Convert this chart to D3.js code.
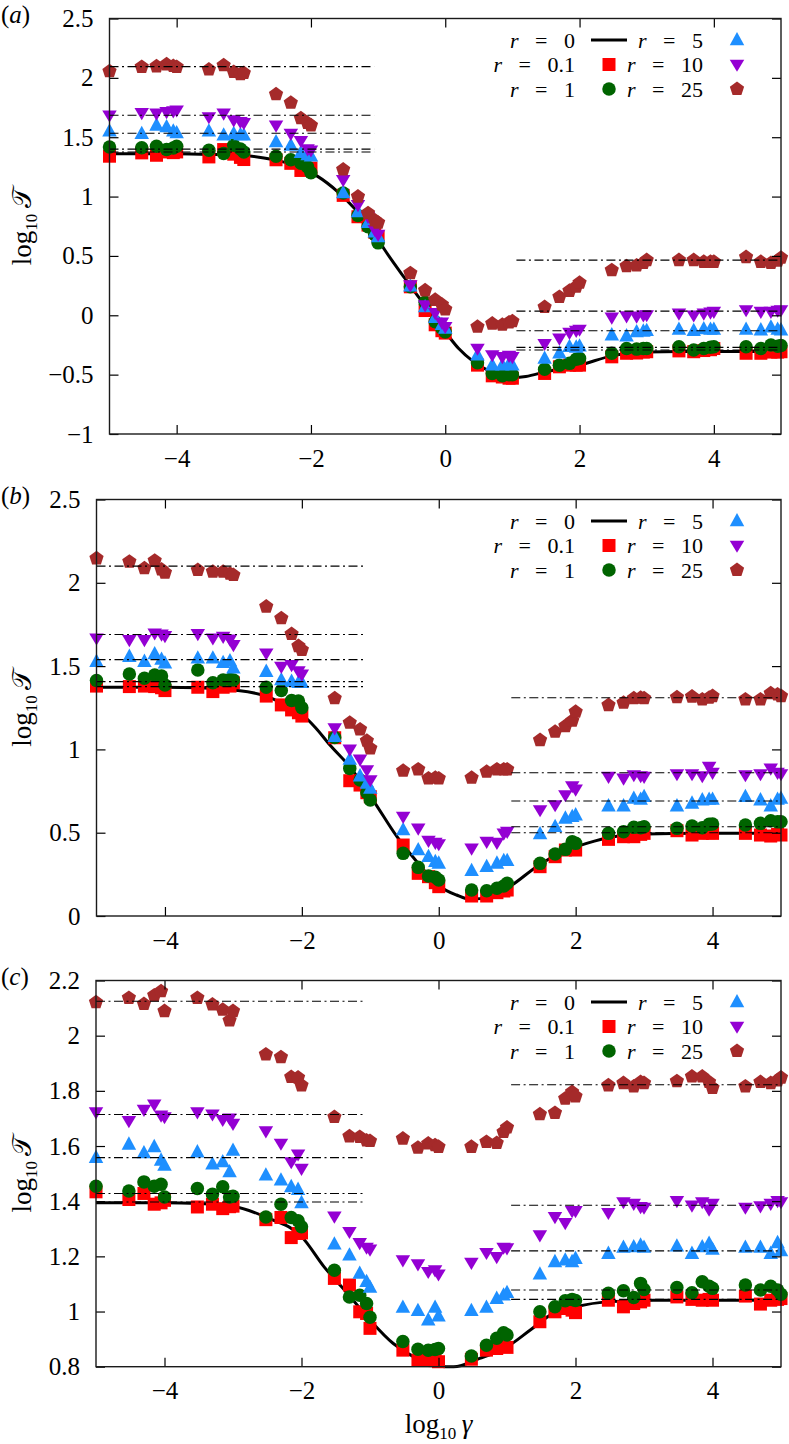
<!DOCTYPE html>
<html>
<head>
<meta charset="utf-8">
<script src="https://cdn.jsdelivr.net/npm/d3@7"></script>
<style>
  body { margin: 0; background: #fff; }
  svg text { font-family: "Liberation Serif", "Times New Roman", Times, "DejaVu Serif", serif; fill: #000; }
</style>
</head>
<body>
<div id="chart"></div>
<script>
// log10(gamma) of every run (1,3,5,7,9 x 10^k)
var logGamma = [
  -5, -4.52, -4.3, -4.15, -4.05,
  -4, -3.52, -3.3, -3.15, -3.05,
  -3, -2.52, -2.3, -2.15, -2.05,
  -2, -1.52, -1.3, -1.15, -1.05,
  -1, -0.52, -0.3, -0.15, -0.05,
   0,  0.48,  0.7,  0.85,  0.95,
   1,  1.48,  1.7,  1.85,  1.95,
   2,  2.48,  2.7,  2.85,  2.95,
   3,  3.48,  3.7,  3.85,  3.95,
   4,  4.48,  4.7,  4.85,  4.95,
   5];

var legendNames = ["0.1", "1", "5", "10", "25"];

// panel (a)
var aR01 = [1.34,1.368,1.348,1.376,1.37, 1.376,1.334,1.396,1.357,1.33, 1.312,1.31,1.28,1.22,1.23,
  1.24,1.01,0.83,0.76,0.70, 0.66,0.24,0.04,-0.08,-0.13, -0.15,-0.42,-0.51,-0.52,-0.53,
  -0.53,-0.49,-0.434,-0.42,-0.42, -0.42,-0.35,-0.32,-0.318,-0.31, -0.307,-0.30,-0.307,-0.297,-0.29,
  -0.28,-0.32,-0.32,-0.31,-0.31, -0.307];
var aR1 = [1.418,1.412,1.424,1.396,1.41, 1.424,1.39,1.363,1.433,1.40, 1.376,1.34,1.31,1.28,1.25,
  1.20,1.03,0.84,0.745,0.68, 0.61,0.24,0.11,-0.055,-0.11, -0.14,-0.40,-0.49,-0.51,-0.50,
  -0.50,-0.455,-0.42,-0.405,-0.37, -0.363,-0.32,-0.28,-0.285,-0.28, -0.28,-0.265,-0.293,-0.28,-0.27,
  -0.265,-0.265,-0.28,-0.25,-0.26, -0.255];
var aR5 = [1.55,1.53,1.60,1.587,1.55, 1.536,1.55,1.517,1.53,1.52, 1.517,1.46,1.43,1.37,1.35,
  1.34,1.03,0.87,0.78,0.70, 0.66,0.245,0.07,-0.02,-0.08, -0.11,-0.335,-0.42,-0.42,-0.41,
  -0.42,-0.363,-0.32,-0.265,-0.27, -0.26,-0.167,-0.175,-0.14,-0.135, -0.13,-0.12,-0.13,-0.115,-0.12,
  -0.12,-0.12,-0.125,-0.10,-0.12, -0.125];
var aR10 = [1.685,1.705,1.70,1.713,1.72, 1.727,1.67,1.70,1.643,1.63, 1.62,1.60,1.53,1.47,1.40,
  1.39,1.14,0.93,0.83,0.72, 0.68,0.254,0.085,0.02,-0.06, -0.097,-0.28,-0.335,-0.35,-0.34,
  -0.35,-0.24,-0.195,-0.147,-0.13, -0.12,-0.018,-0.007,-0.01,0.0, 0.002,0.016,0.0,0.016,0.025,
  0.03,0.044,0.03,0.03,0.04, 0.044];
var aR25 = [2.056,2.092,2.097,2.114,2.10, 2.092,2.07,2.106,2.05,2.03, 2.041,1.862,1.79,1.66,1.62,
  1.60,1.228,1.0,0.86,0.80, 0.78,0.355,0.21,0.13,0.09, 0.05,-0.097,-0.07,-0.08,-0.06,
  -0.05,0.07,0.155,0.206,0.24, 0.274,0.38,0.414,0.42,0.44, 0.465,0.465,0.465,0.45,0.45,
  0.45,0.49,0.45,0.44,0.46, 0.485];
var aCurve = [[-5,1.36],[-4,1.36],[-3.5,1.355],[-3,1.345],[-2.7,1.325],[-2.4,1.29],[-2.1,1.23],
  [-1.9,1.17],[-1.6,1.04],[-1.35,0.90],[-1.1,0.73],[-0.9,0.55],[-0.6,0.31],[-0.3,0.08],[0,-0.14],
  [0.2,-0.28],[0.42,-0.39],[0.7,-0.48],[0.95,-0.525],[1.2,-0.515],[1.5,-0.475],[2,-0.42],
  [2.5,-0.34],[3,-0.31],[3.5,-0.305],[5,-0.305]];
var aPlateauLow = [1.376, 1.40, 1.534, 1.685, 2.095];
var aPlateauHigh = [-0.293, -0.27, -0.13, 0.035, 0.465];
var aTicks = [-1, -0.5, 0, 0.5, 1, 1.5, 2, 2.5];

// panel (b)
var bR01 = [1.38,1.377,1.38,1.377,1.37, 1.353,1.373,1.347,1.373,1.38, 1.40,1.32,1.267,1.237,1.22,
  1.20,1.07,0.812,0.786,0.74, 0.716,0.426,0.256,0.236,0.20, 0.176,0.12,0.12,0.14,0.15,
  0.156,0.296,0.356,0.396,0.40, 0.396,0.46,0.476,0.476,0.49, 0.496,0.512,0.486,0.496,0.50,
  0.496,0.496,0.486,0.48,0.49, 0.486];
var bR1 = [1.413,1.453,1.427,1.447,1.44, 1.387,1.477,1.40,1.417,1.42, 1.417,1.373,1.353,1.293,1.29,
  1.25,1.072,0.886,0.816,0.74, 0.696,0.376,0.292,0.24,0.232, 0.216,0.156,0.152,0.166,0.18,
  0.196,0.316,0.372,0.40,0.446, 0.436,0.496,0.506,0.532,0.53, 0.536,0.526,0.54,0.53,0.55,
  0.552,0.546,0.556,0.572,0.565, 0.566];
var bR5 = [1.527,1.557,1.527,1.573,1.54, 1.517,1.547,1.547,1.52,1.53, 1.487,1.467,1.417,1.407,1.40,
  1.40,1.076,0.94,0.84,0.796, 0.766,0.516,0.396,0.356,0.326, 0.316,0.272,0.296,0.316,0.332,
  0.332,0.492,0.536,0.586,0.596, 0.606,0.66,0.66,0.706,0.70, 0.716,0.66,0.676,0.696,0.70,
  0.70,0.716,0.696,0.66,0.70, 0.706];
var bR10 = [1.667,1.657,1.657,1.697,1.69, 1.681,1.693,1.667,1.677,1.66, 1.627,1.577,1.497,1.507,1.47,
  1.45,1.127,1.0,0.94,0.876, 0.816,0.596,0.526,0.452,0.44, 0.432,0.406,0.446,0.44,0.496,
  0.506,0.636,0.666,0.726,0.78, 0.76,0.836,0.826,0.846,0.84, 0.836,0.852,0.852,0.84,0.896,
  0.86,0.846,0.852,0.886,0.86, 0.852];
var bR25 = [2.147,2.127,2.087,2.133,2.08, 2.061,2.077,2.067,2.067,2.055, 2.047,1.857,1.787,1.693,1.62,
  1.597,1.307,1.16,1.12,1.052, 1.006,0.872,0.88,0.826,0.83, 0.826,0.83,0.866,0.88,0.88,
  0.88,1.056,1.106,1.14,1.172, 1.226,1.266,1.28,1.307,1.31, 1.307,1.313,1.317,1.30,1.31,
  1.32,1.30,1.30,1.337,1.33, 1.32];
var bCurve = [[-5,1.373],[-4,1.373],[-3.5,1.37],[-3,1.357],[-2.5,1.317],[-2.2,1.257],[-2,1.21],
  [-1.8,1.13],[-1.59,1.026],[-1.3,0.896],[-0.96,0.696],[-0.61,0.476],[-0.32,0.326],[0.02,0.176],
  [0.26,0.126],[0.46,0.10],[0.75,0.116],[1.07,0.186],[1.43,0.296],[1.82,0.386],[2.16,0.436],
  [2.55,0.476],[3.04,0.492],[3.77,0.496],[5,0.496]];
var bPlateauLow = [1.377, 1.407, 1.539, 1.69, 2.10];
var bPlateauHigh = [0.50, 0.536, 0.69, 0.86, 1.31];
var bTicks = [0, 0.5, 1, 1.5, 2, 2.5];

// panel (c)
var cR01 = [1.434,1.406,1.428,1.389,1.394, 1.403,1.379,1.389,1.373,1.38, 1.382,1.333,1.341,1.268,1.283,
  1.285,1.12,1.096,0.999,0.993, 0.939,0.86,0.824,0.824,0.822, 0.818,0.827,0.86,0.866,0.875,
  0.87,0.963,0.999,1.011,1.005, 0.996,1.041,1.017,1.029,1.035, 1.041,1.053,1.044,1.041,1.044,
  1.041,1.056,1.027,1.041,1.044, 1.047];
var cR1 = [1.454,1.437,1.47,1.454,1.461, 1.415,1.446,1.425,1.452,1.415, 1.418,1.343,1.389,1.341,1.329,
  1.307,1.15,1.053,1.059,1.029, 0.979,0.891,0.863,0.86,0.862, 0.866,0.839,0.878,0.903,0.923,
  0.915,0.999,1.017,1.039,1.044, 1.04,1.066,1.075,1.051,1.102, 1.08,1.087,1.068,1.108,1.092,
  1.084,1.096,1.078,1.092,1.078, 1.063];
var cR5 = [1.558,1.606,1.575,1.597,1.548, 1.53,1.578,1.534,1.542,1.506, 1.584,1.494,1.476,1.452,1.442,
  1.394,1.244,1.204,1.138,1.108, 1.087,1.015,1.003,0.969,1.015, 0.983,1.003,1.015,1.047,1.059,
  1.068,1.135,1.18,1.186,1.18, 1.192,1.21,1.232,1.234,1.24, 1.232,1.237,1.21,1.234,1.247,
  1.225,1.232,1.232,1.21,1.249, 1.22];
var cR10 = [1.723,1.691,1.732,1.751,1.711, 1.705,1.723,1.715,1.695,1.70, 1.681,1.654,1.609,1.542,1.57,
  1.518,1.345,1.289,1.249,1.232, 1.225,1.186,1.172,1.144,1.15, 1.135,1.177,1.213,1.198,1.232,
  1.23,1.277,1.343,1.321,1.365, 1.365,1.358,1.397,1.391,1.379, 1.377,1.401,1.385,1.397,1.37,
  1.391,1.377,1.382,1.391,1.401, 1.397];
var cR25 = [2.121,2.137,2.115,2.146,2.161, 2.089,2.137,2.113,2.094,2.055, 2.089,1.932,1.922,1.85,1.848,
  1.82,1.705,1.635,1.633,1.62, 1.618,1.627,1.594,1.609,1.603, 1.597,1.597,1.615,1.611,1.651,
  1.667,1.715,1.72,1.772,1.796, 1.78,1.82,1.828,1.816,1.832, 1.828,1.835,1.852,1.852,1.832,
  1.811,1.816,1.832,1.828,1.838, 1.848];
var cCurve = [[-5,1.394],[-4,1.394],[-3.5,1.392],[-3,1.382],[-2.5,1.34],[-2,1.272],[-1.67,1.162],
  [-1.33,1.066],[-1,0.969],[-0.66,0.884],[-0.32,0.83],[0,0.802],[0.22,0.80],[0.6,0.83],[1,0.872],
  [1.34,0.933],[1.68,0.994],[2.02,1.018],[2.45,1.035],[3.14,1.041],[5,1.041]];
var cPlateauLow = [1.397, 1.428, 1.558, 1.714, 2.125];
var cPlateauHigh = [1.044, 1.078, 1.22, 1.385, 1.822];
var cTicks = [0.8, 1, 1.2, 1.4, 1.6, 1.8, 2, 2.2];

var xTicks = [-4, -2, 0, 2, 4];

var width = 789, height = 1444, plotRight = 781;
var serif = "'Liberation Serif', 'Times New Roman', Times, 'DejaVu Serif', serif";
var colors = ["#ff0000", "#006400", "#1e8fff", "#9400d3", "#a52a2a"];

// marker shapes (size = rough width in px)
var square = { draw: function (c, s) { var h = s / 2; c.rect(-h, -h, s, s); } };
var circle = { draw: function (c, s) { var r = s / 2; c.moveTo(r, 0); c.arc(0, 0, r, 0, 2 * Math.PI); } };
var triUp = { draw: function (c, s) {
  var h = s * 0.92;
  c.moveTo(0, -h * 0.6); c.lineTo(s / 2, h * 0.4); c.lineTo(-s / 2, h * 0.4); c.closePath();
} };
var triDown = { draw: function (c, s) {
  var h = s * 0.84;
  c.moveTo(0, h * 0.6); c.lineTo(s / 2, -h * 0.4); c.lineTo(-s / 2, -h * 0.4); c.closePath();
} };
var pentagon = { draw: function (c, s) {
  var r = s / 2;
  for (var i = 0; i < 5; i++) {
    var a = -Math.PI / 2 + i * 2 * Math.PI / 5;
    if (i === 0) c.moveTo(r * Math.cos(a), r * Math.sin(a));
    else c.lineTo(r * Math.cos(a), r * Math.sin(a));
  }
  c.closePath();
} };
var shapes = [square, circle, triUp, triDown, pentagon];
var shapeSizes = [13, 13.5, 14.5, 14.5, 15];

var panels = [
  { tag: "a", left: 109.5, top: 18.5, bottom: 434, domain: [-1, 2.5], ticks: aTicks, curve: aCurve,
    series: [aR01, aR1, aR5, aR10, aR25], low: aPlateauLow, high: aPlateauHigh },
  { tag: "b", left: 96.5, top: 499.5, bottom: 916, domain: [0, 2.5], ticks: bTicks, curve: bCurve,
    series: [bR01, bR1, bR5, bR10, bR25], low: bPlateauLow, high: bPlateauHigh },
  { tag: "c", left: 96, top: 980.5, bottom: 1366.7, domain: [0.8, 2.2], ticks: cTicks, curve: cCurve,
    series: [cR01, cR1, cR5, cR10, cR25], low: cPlateauLow, high: cPlateauHigh }
];

var svg = d3.select("#chart").append("svg")
  .attr("width", width)
  .attr("height", height)
  .attr("font-family", serif);

function fmt(d) { return String(d).replace("-", "\u2212"); }

function logLabel(sel, symbol, italicSymbol) {
  sel.append("tspan").text("log");
  sel.append("tspan").attr("dy", 6).style("font-size", "17px").text("10");
  var t = sel.append("tspan").attr("dy", -6).text("\u2009" + symbol);
  if (italicSymbol) t.style("font-style", "italic");
}

panels.forEach(function (p) {
  var x = d3.scaleLinear().domain([-5, 5]).range([p.left, plotRight]);
  var y = d3.scaleLinear().domain(p.domain).range([p.bottom, p.top]);
  var g = svg.append("g");

  // r = 0 curve
  g.append("path")
    .datum(p.curve)
    .attr("fill", "none")
    .attr("stroke", "#000")
    .attr("stroke-width", 3)
    .attr("d", d3.line().x(d => x(d[0])).y(d => y(d[1])).curve(d3.curveMonotoneX));

  // markers, one series after the other
  p.series.forEach(function (vals, k) {
    var pts = logGamma.map((lg, i) => [lg, vals[i]]).filter(d => d[1] != null);
    g.append("g")
      .attr("fill", colors[k])
      .selectAll("path")
      .data(pts)
      .enter()
        .append("path")
        .attr("transform", d => "translate(" + x(d[0]) + "," + y(d[1]) + ")")
        .attr("d", d3.symbol().type(shapes[k]).size(shapeSizes[k]));
  });

  // dash-dot plateau lines
  var dash = g.append("g")
    .attr("stroke", "#000")
    .attr("stroke-width", 1.1)
    .attr("stroke-dasharray", "9,3.5,2,3.5");
  p.low.forEach(function (v) {
    dash.append("line").attr("x1", x(-5)).attr("x2", x(-1.06)).attr("y1", y(v)).attr("y2", y(v));
  });
  p.high.forEach(function (v) {
    dash.append("line").attr("x1", x(1.06)).attr("x2", x(5)).attr("y1", y(v)).attr("y2", y(v));
  });

  // axes with inward ticks on all four sides
  var axL = g.append("g").attr("transform", "translate(" + p.left + ",0)")
    .call(d3.axisLeft(y).tickValues(p.ticks).tickSize(-9).tickPadding(16).tickFormat(fmt));
  var axR = g.append("g").attr("transform", "translate(" + plotRight + ",0)")
    .call(d3.axisRight(y).tickValues(p.ticks).tickSize(-9).tickFormat(""));
  var axB = g.append("g").attr("transform", "translate(0," + p.bottom + ")")
    .call(d3.axisBottom(x).tickValues(xTicks).tickSize(-9).tickPadding(15).tickFormat(fmt));
  var axT = g.append("g").attr("transform", "translate(0," + p.top + ")")
    .call(d3.axisTop(x).tickValues(xTicks).tickSize(-9).tickFormat(""));
  [axL, axR, axB, axT].forEach(function (ax) {
    ax.attr("font-family", serif).attr("font-size", 25);
    ax.select(".domain").remove();
    ax.selectAll("line").attr("stroke", "#000").attr("stroke-width", 1.2);
    ax.selectAll("text")
      .style("font-family", serif)
      .style("font-size", "25px");
  });

  g.append("rect")
    .attr("x", p.left).attr("y", p.top)
    .attr("width", plotRight - p.left).attr("height", p.bottom - p.top)
    .attr("fill", "none").attr("stroke", "#1a1a1a").attr("stroke-width", 1.4);

  // panel tag
  var tag = g.append("text").attr("x", 1).attr("y", p.top + 4).style("font-size", "25px");
  tag.append("tspan").text("(");
  tag.append("tspan").style("font-style", "italic").text(p.tag);
  tag.append("tspan").text(")");

  // y axis title
  var yt = g.append("text")
    .attr("transform", "translate(31," + ((p.top + p.bottom) / 2) + ") rotate(-90)")
    .attr("text-anchor", "middle")
    .style("font-size", "27px");
  logLabel(yt, "\ud835\udcaf", false);

  // legend (rows 24.5 px apart, font kept small enough not to overlap)
  var rows = [p.top + 21.5, p.top + 46, p.top + 70.5];
  var entries = [
    { name: "0", col: 0, row: 0, line: true },
    { name: legendNames[0], col: 0, row: 1, k: 0 },
    { name: legendNames[1], col: 0, row: 2, k: 1 },
    { name: legendNames[2], col: 1, row: 0, k: 2 },
    { name: legendNames[3], col: 1, row: 1, k: 3 },
    { name: legendNames[4], col: 1, row: 2, k: 4 }
  ];
  var textRight = [575, 703], sampleX = [609, 737];
  entries.forEach(function (e) {
    var yy = rows[e.row];
    var t = g.append("text")
      .attr("x", textRight[e.col]).attr("y", yy + 7.5)
      .attr("text-anchor", "end")
      .style("font-size", "22px")
      .style("white-space", "pre");
    t.append("tspan").style("font-style", "italic").text("r");
    t.append("tspan").text("   =   " + e.name);
    if (e.line) {
      g.append("line")
        .attr("x1", sampleX[e.col] - 18).attr("x2", sampleX[e.col] + 18)
        .attr("y1", yy).attr("y2", yy)
        .attr("stroke", "#000").attr("stroke-width", 3);
    } else {
      g.append("path")
        .attr("transform", "translate(" + sampleX[e.col] + "," + yy + ")")
        .attr("fill", colors[e.k])
        .attr("d", d3.symbol().type(shapes[e.k]).size(shapeSizes[e.k]));
    }
  });
});

// x axis title under the last panel
var xt = svg.append("text")
  .attr("x", (96 + plotRight) / 2).attr("y", 1433)
  .attr("text-anchor", "middle")
  .style("font-size", "27px");
logLabel(xt, "\u03b3", true);
</script>
</body>
</html>
